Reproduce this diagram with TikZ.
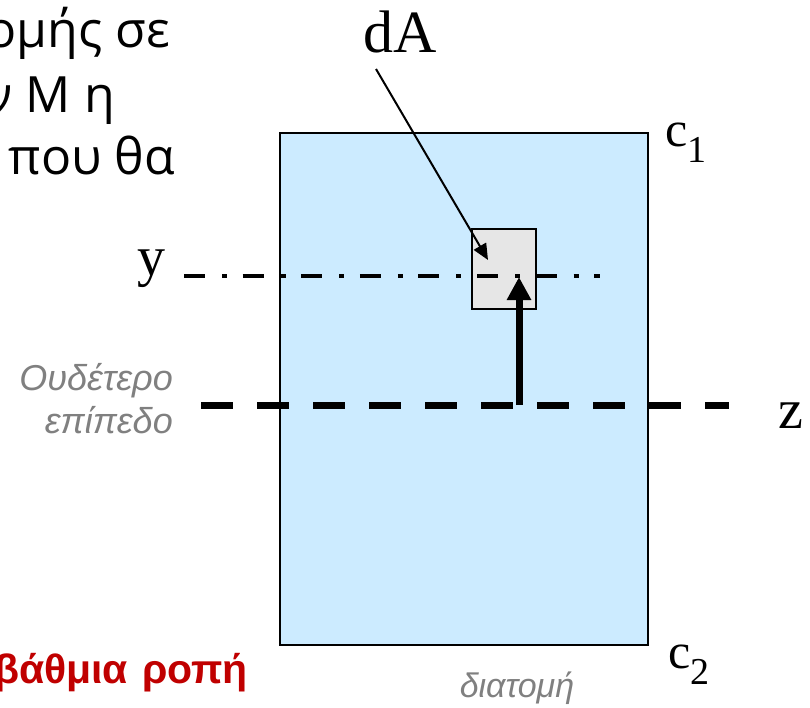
\documentclass[tikz,border=0pt]{standalone}
\usepackage{fontspec}
\setmainfont{Liberation Serif}
\newfontfamily\arialfont{Liberation Sans}
\newfontfamily\bodyfont{Open Sans}
\usepackage{xcolor}
\usepackage{tikz}
\usetikzlibrary{arrows.meta}

\definecolor{sectblue}{HTML}{CCEBFF}
\definecolor{elemgray}{HTML}{E6E6E6}
\definecolor{notegray}{HTML}{808080}
\definecolor{darkred}{HTML}{C00000}

\begin{document}
\begin{tikzpicture}[x=1pt,y=-1pt,
  serif/.style={font=\fontsize{56}{56}\selectfont,inner sep=0pt},
  note/.style={font=\arialfont\itshape\fontsize{36}{36}\selectfont,text=notegray,inner sep=0pt},
  body/.style={font=\bodyfont\fontsize{50}{50}\selectfont,inner sep=0pt},
  yaxis/.style={line width=4.5pt,dash pattern=on 21pt off 17pt on 5pt off 15.6pt},
  zaxis/.style={line width=7pt,dash pattern=on 31.5pt off 24.5pt}]
\useasboundingbox (0,0) rectangle (810,708);
\clip (0,0) rectangle (810,708);

% cross section and element
\node[draw,line width=2pt,fill=sectblue,minimum width=368pt,minimum height=512pt,inner sep=0pt] (sect) at (464,389) {};
\coordinate (zL) at (201,405);
\coordinate (zR) at (729,405);
\draw[zaxis] (zL) -- (zR);
\node[draw,line width=1.5pt,fill=elemgray,minimum width=64pt,minimum height=80pt,inner sep=0pt] (elem) at (504,269) {};
\coordinate (yL) at (184,276);
\coordinate (yR) at (600,276);
\draw[yaxis] (yL) -- (yR);

% distance y
\coordinate (yfoot) at (519,405);
\coordinate (ytip) at (519,277);
\draw[line width=7pt,-{Triangle[length=23pt,width=23pt]}] (yfoot) -- (ytip);

% labels
\node[serif,font=\fontsize{60}{60}\selectfont,anchor=base] (dA) at (400,53) {dA};
\coordinate (dAfoot) at (376,69);
\coordinate (dAtip) at (488,260);
\draw[line width=2pt,-{Triangle[length=16pt,width=14pt]}] (dAfoot) -- (dAtip);
\node[serif,anchor=base] (ylab) at (151,276) {y};
\node[serif,anchor=base west] (zlab) at (778,428) {z};
\node[serif,font=\fontsize{50}{50}\selectfont,anchor=base west] (c1) at (665,147) {c\raisebox{-16pt}{\fontsize{38}{38}\selectfont 1}};
\node[serif,font=\fontsize{50}{50}\selectfont,anchor=base west] (c2) at (668,668) {c\raisebox{-16pt}{\fontsize{38}{38}\selectfont 2}};

\node[note,anchor=base east] (neutral1) at (173,390) {Ουδέτερο};
\node[note,anchor=base east] (neutral2) at (173,433) {επίπεδο};
\node[note,font=\arialfont\itshape\fontsize{34}{34}\selectfont,anchor=base] (caption) at (517,697) {διατομή};

% cut text at the left
\node[body,anchor=base east] (line1) at (170,48) {ομής σε};
\node[body,anchor=base east] (line2) at (115,113) {ν Μ η};
\node[body,anchor=base east] (line3) at (175,175) {που θα};
\node[font=\arialfont\bfseries\fontsize{41}{41}\selectfont,text=darkred,inner sep=0pt,anchor=base east] (moment) at (248,683) {βάθμια\hspace{14pt}ροπή};
\end{tikzpicture}
\end{document}
